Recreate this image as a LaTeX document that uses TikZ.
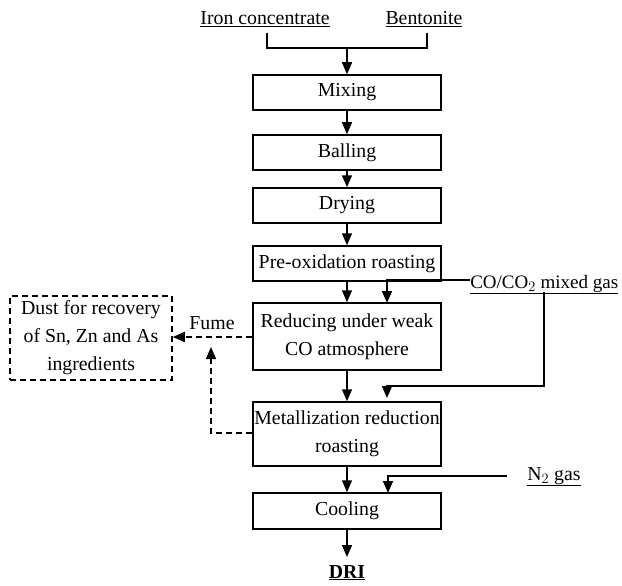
\documentclass[tikz,border=0pt]{standalone}
\usepackage{fontspec}
\setmainfont{Liberation Serif}
\usetikzlibrary{arrows.meta}
\begin{document}
\begin{tikzpicture}[x=1pt,y=-1pt,
  font=\fontsize{19.8pt}{28pt}\selectfont,
  line width=1.5pt,
  procbox/.style={draw, minimum width=188pt, inner sep=0pt, align=center},
  flow/.style={-{Triangle[width=10pt,length=12pt]}},
  dashline/.style={dash pattern=on 6pt off 4pt},
  lbl/.style={inner sep=0pt, anchor=base}
]
\useasboundingbox (0,0) rectangle (622,586);

% input labels
\node[lbl] (iron) at (265,25) {\underline{Iron concentrate}};
\node[lbl] (bent) at (424,25) {\underline{Bentonite}};

% process boxes
\node[procbox, minimum height=35pt] (mix)  at (347,92.5)  {Mixing};
\node[procbox, minimum height=35pt] (ball) at (347,152.5) {Balling};
\node[procbox, minimum height=35pt] (dry)  at (347,205.5) {Drying};
\node[procbox, minimum height=35pt] (preox) at (347,263.5) {Pre-oxidation roasting};
\node[procbox, minimum height=67pt] (red)  at (347,336.5) {Reducing under weak\\CO atmosphere};
\node[procbox, minimum height=64pt] (met)  at (347,434)   {Metallization reduction\\roasting};
\node[procbox, minimum height=36pt] (cool) at (347,511)   {Cooling};

% dust box
\node[draw, dashline, minimum width=162pt, minimum height=84pt, inner sep=0pt, align=center] (dust) at (91,338) {Dust for recovery\\of Sn, Zn and As\\ingredients};
\node[lbl, anchor=center] (fume) at (212,323) {Fume};

% gases
\node[lbl, anchor=base east, font=\fontsize{19pt}{24pt}\selectfont] (co) at (619,288) {\underline{CO/CO$_2$ mixed gas}};
\node[lbl] (n2) at (554,480) {\underline{N$_2$ gas}};

% output
\node[lbl] (dri) at (347,578) {\underline{\textbf{DRI}}};

% bracket from inputs
\coordinate (b1) at (267,33);
\coordinate (b2) at (267,48);
\coordinate (b3) at (427,48);
\coordinate (b4) at (427,33);
\coordinate (bm) at (347,48);
\draw (b1) -- (b2) -- (b3) -- (b4);
\draw[flow] (bm) -- (mix.north);

% main flow
\draw[flow] (mix.south) -- (ball.north);
\draw[flow] (ball.south) -- (dry.north);
\draw[flow] (dry.south) -- (preox.north);
\draw[flow] (preox.south) -- (red.north);
\draw[flow] (red.south) -- (met.north);
\draw[flow] (met.south) -- (cool.north);
\coordinate (driTop) at (347,557);
\draw[flow] (cool.south) -- (driTop);

% CO/CO2 lines
\coordinate (c2) at (387,280);
\coordinate (c3) at (387,303);
\draw[flow] (co.west |- c2) -- (c2) -- (c3);
\coordinate (d1) at (544,292);
\coordinate (d2) at (544,386);
\coordinate (d3) at (387,386);
\coordinate (d4) at (387,398);
\draw[flow] (d1) -- (d2) -- (d3) -- (d4);

% N2 line
\coordinate (n1) at (507,476);
\coordinate (n2c) at (388,476);
\coordinate (n3) at (388,493);
\draw[flow] (n1) -- (n2c) -- (n3);

% fume lines
\draw[flow, dashline] (red.west |- 0,337) -- (dust.east |- 0,337);
\coordinate (f1) at (211,433);
\coordinate (f2) at (211,347);
\draw[flow, dashline] (met.west |- 0,433) -- (f1) -- (f2);
\end{tikzpicture}
\end{document}
